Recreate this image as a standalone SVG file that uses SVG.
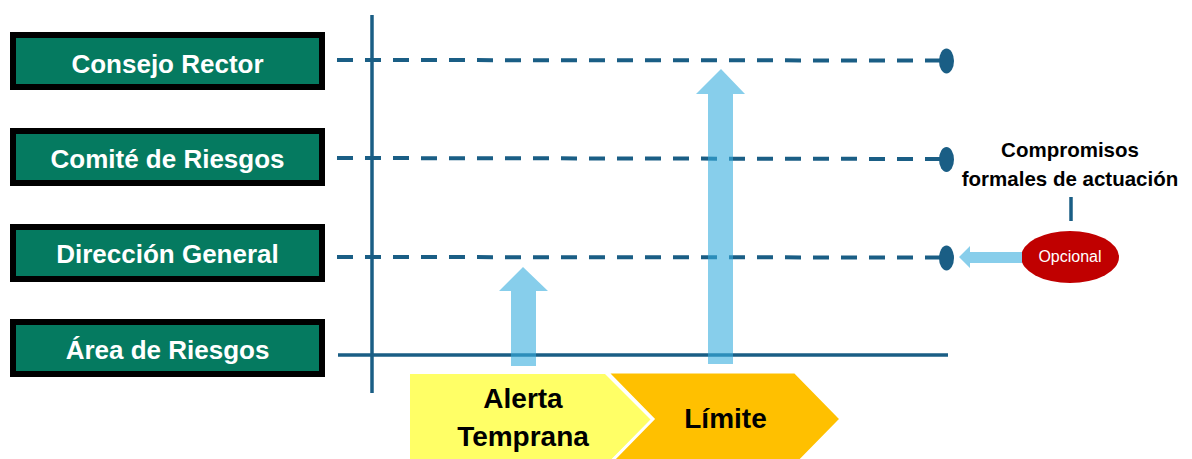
<svg xmlns="http://www.w3.org/2000/svg" width="1192" height="459" viewBox="0 0 1192 459">
<style>
.box{fill:#057A60;stroke:#000;stroke-width:6}
.lbl{font-family:"Liberation Sans",Arial,sans-serif;font-weight:bold;font-size:26px;fill:#fff;text-anchor:middle}
.dash{stroke:#1A5E85;stroke-width:4;stroke-dasharray:16 12;fill:none}
.axis{stroke:#1A5E85;stroke-width:3.5;fill:none}
.dot{fill:#1A5E85}
.up{fill:#37ADDE;fill-opacity:0.6}
.chev{font-family:"Liberation Sans",Arial,sans-serif;font-weight:bold;font-size:28px;fill:#000;text-anchor:middle}
.note{font-family:"Liberation Sans",Arial,sans-serif;font-weight:bold;font-size:20.5px;fill:#000;text-anchor:middle}
</style>
<rect width="1192" height="459" fill="#fff"/>
<g id="consejo-rector"><rect class="box" x="13" y="35" width="309" height="52"/><text class="lbl" x="167.5" y="73">Consejo Rector</text></g>
<g id="comite-riesgos"><rect class="box" x="13" y="131" width="309" height="52"/><text class="lbl" x="167.5" y="168">Comité de Riesgos</text></g>
<g id="direccion-general"><rect class="box" x="13" y="227" width="309" height="52"/><text class="lbl" x="167.5" y="263">Dirección General</text></g>
<g id="area-riesgos"><rect class="box" x="13" y="322" width="309" height="52"/><text class="lbl" x="167.5" y="359">Área de Riesgos</text></g>
<g id="alerta-temprana"><polygon points="410,374 605,374 651,420 605,466 410,466" fill="#FFFF66"/><text class="chev" x="523" y="408">Alerta</text><text class="chev" x="523" y="446">Temprana</text></g>
<g id="limite"><polygon points="607,372 795,372 841,419 795,466 607,466 653,419" fill="#FFC000" stroke="#fff" stroke-width="3"/><text class="chev" x="725.5" y="428" font-size="29">Límite</text></g>
<g id="opcional"><ellipse cx="1070" cy="257" rx="49" ry="26" fill="#C00000"/><text x="1070" y="262" font-family="'Liberation Sans',Arial,sans-serif" font-size="16" fill="#fff" text-anchor="middle">Opcional</text></g>
<g id="compromisos"><text class="note" x="1070" y="157">Compromisos</text><text class="note" x="1070" y="186">formales de actuación</text></g>
<g id="connectors">
<line class="axis" x1="372" y1="15" x2="372" y2="393"/>
<line class="axis" x1="338" y1="355" x2="948" y2="355"/>
<line class="dash" x1="337" y1="60" x2="944" y2="60.5"/>
<line class="dash" x1="337" y1="158" x2="944" y2="159"/>
<line class="dash" x1="337" y1="257" x2="944" y2="257.5"/>
<ellipse class="dot" cx="946.5" cy="61" rx="7.5" ry="12.5"/>
<ellipse class="dot" cx="946.5" cy="159.5" rx="7.5" ry="12.5"/>
<ellipse class="dot" cx="946.5" cy="258" rx="7.5" ry="12.5"/>
<polygon class="up" points="523,267 548,291 536,291 536,366 511,366 511,291 499,291"/>
<polygon class="up" points="721,69 745,94 733,94 733,364 708,364 708,94 696,94"/>
<polygon fill="#88CEEB" points="959,257 970,246 970,252 1022,252 1022,263 970,263 970,268"/>
<line class="axis" x1="1071" y1="197" x2="1071" y2="221" stroke-width="4"/>
</g>
</svg>
